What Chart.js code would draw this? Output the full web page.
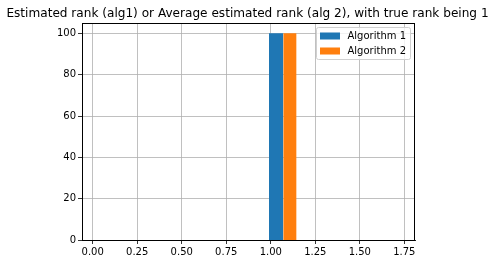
<!DOCTYPE html>
<html>
<head>
<meta charset="utf-8">
<script src="https://cdn.jsdelivr.net/npm/chart.js@4"></script>
<style>
  html, body { margin: 0; padding: 0; background: #fff; }
  #wrap { width: 495px; height: 264px; }
</style>
</head>
<body>
<div id="wrap"><canvas id="myChart" width="495" height="264"></canvas></div>
<script>
// histogram data
var chartTitle = 'Estimated rank (alg1) or Average estimated rank (alg 2), with true rank being 1';
var seriesNames = ['Algorithm 1', 'Algorithm 2'];
var alg1Edges = [0.99, 1.07];
var alg1Counts = [100];
var alg2Edges = [1.07, 1.145];
var alg2Counts = [100];
var xTicks = [0, 0.25, 0.5, 0.75, 1.0, 1.25, 1.5, 1.75];
var yTicks = [0, 20, 40, 60, 80, 100];
var colors = ['#1f77b4', '#ff7f0e'];

// turn bin edges + counts into an outline the line dataset can fill
function histPoints(edges, counts) {
    var pts = [];
    for (var i = 0; i < counts.length; i++) {
        pts.push({x: edges[i], y: 0});
        pts.push({x: edges[i], y: counts[i]});
        pts.push({x: edges[i + 1], y: counts[i]});
        pts.push({x: edges[i + 1], y: 0});
    }
    return pts;
}

function makeSet(name, edges, counts, color) {
    return {
        label: name,
        data: histPoints(edges, counts),
        backgroundColor: color,
        borderColor: color,
        borderWidth: 0,
        pointRadius: 0,
        tension: 0,
        fill: 'origin'
    };
}

Chart.defaults.font.family = 'DejaVu Sans';
Chart.defaults.font.size = 10;
Chart.defaults.color = '#000';

var frameAndLegend = {
    id: 'frameAndLegend',
    afterDraw: function(chart) {
        var c = chart.ctx, a = chart.chartArea;
        c.save();
        // title centred on the whole figure
        c.font = '12.1px "DejaVu Sans"';
        c.fillStyle = '#000';
        c.textAlign = 'center';
        c.textBaseline = 'middle';
        c.fillText(chartTitle, chart.width / 2, 14);

        c.strokeStyle = '#000';
        c.lineWidth = 1;
        c.strokeRect(Math.round(a.left) + 0.5, Math.round(a.top) + 0.5,
            Math.round(a.right - a.left) - 1, Math.round(a.bottom - a.top));

        // legend box, upper right like matplotlib
        var bw = 94, bh = 32;
        var bx = a.right - 4.5 - bw, by = a.top + 4.5;
        c.beginPath();
        c.roundRect(bx, by, bw, bh, 2);
        c.fillStyle = 'rgba(255,255,255,0.8)';
        c.fill();
        c.strokeStyle = '#d0d0d0';
        c.stroke();
        c.font = '10px "DejaVu Sans"';
        c.textAlign = 'left';
        c.textBaseline = 'middle';
        chart.data.datasets.forEach(function(ds, i) {
            var yy = by + 8.5 + i * 15;
            c.fillStyle = ds.backgroundColor;
            c.fillRect(bx + 3.5, yy - 3.5, 20, 7);
            c.fillStyle = '#000';
            c.fillText(ds.label, bx + 31, yy);
        });
        c.restore();
    }
};

var ctx = document.getElementById('myChart').getContext('2d');
var myChart = new Chart(ctx, {
    type: 'line',
    data: {
        datasets: [
            makeSet(seriesNames[0], alg1Edges, alg1Counts, colors[0]),
            makeSet(seriesNames[1], alg2Edges, alg2Counts, colors[1])
        ]
    },
    options: {
        responsive: false,
        animation: false,
        layout: { padding: { left: 0, right: 80, top: 23, bottom: 0 } },
        plugins: {
            legend: { display: false },
            tooltip: { enabled: false },
            title: { display: false }
        },
        scales: {
            x: {
                type: 'linear',
                min: -0.06,
                max: 1.81,
                afterBuildTicks: function(s) { s.ticks = xTicks.map(function(v) { return {value: v}; }); },
                afterFit: function(s) { s.height = 24; },
                ticks: {
                    padding: 2,
                    maxRotation: 0,
                    callback: function(v) { return v.toFixed(2); }
                },
                grid: { color: '#b0b0b0', lineWidth: 0.8, tickColor: '#000', tickLength: 4 },
                border: { color: '#000', width: 1 }
            },
            y: {
                min: 0,
                max: 105,
                afterBuildTicks: function(s) { s.ticks = yTicks.map(function(v) { return {value: v}; }); },
                afterFit: function(s) { s.width = 82; },
                ticks: { padding: 2 },
                grid: { color: '#b0b0b0', lineWidth: 0.8, tickColor: '#000', tickLength: 4 },
                border: { color: '#000', width: 1 }
            }
        }
    },
    plugins: [frameAndLegend]
});
</script>
</body>
</html>
